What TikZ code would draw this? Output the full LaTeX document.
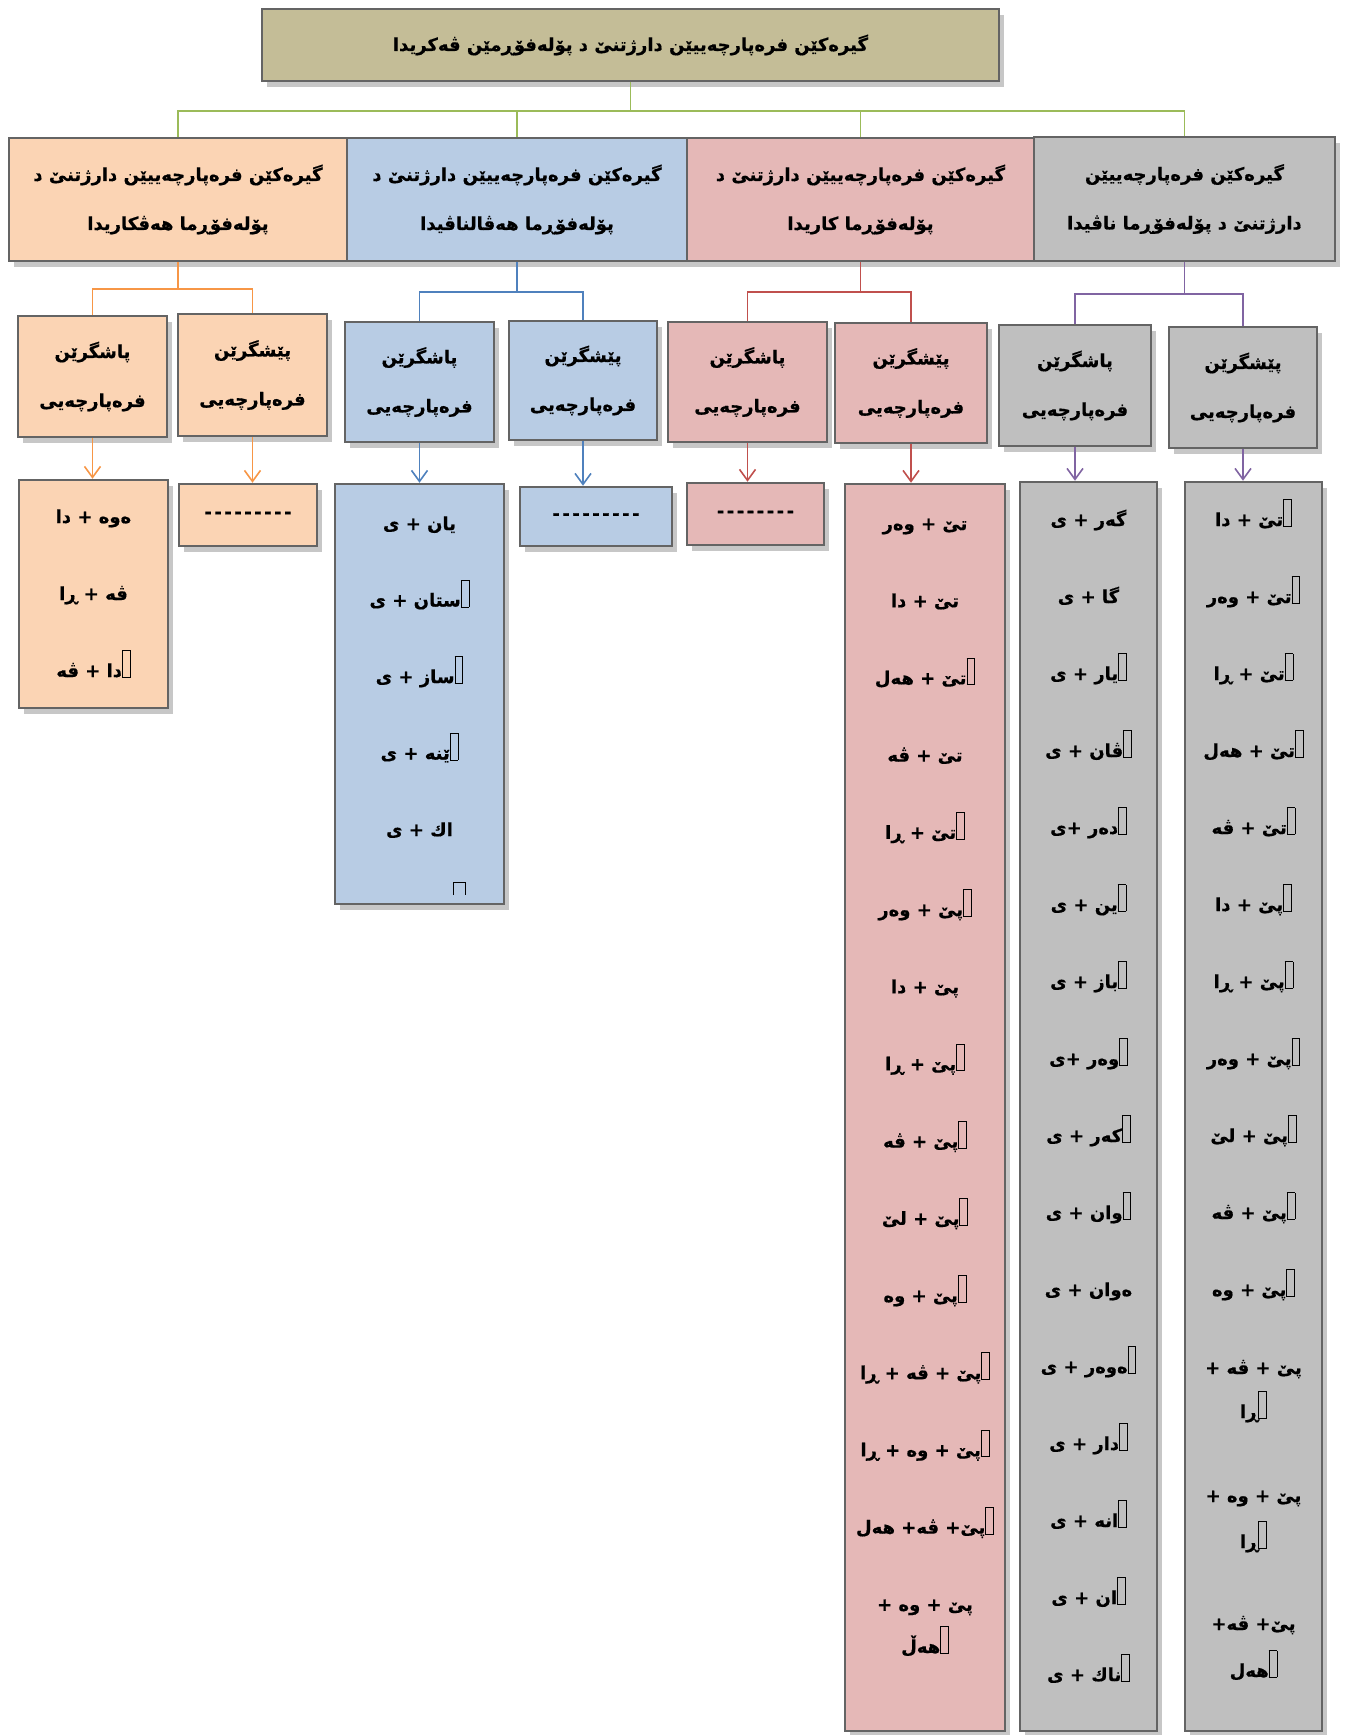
\documentclass[tikz,border=0pt]{standalone}
\usepackage{fontspec}
\usetikzlibrary{shadows,arrows.meta}
\TeXXeTstate=1
\newfontfamily\kurd[Script=Arabic,BoldFeatures={FakeBold=0.6}]{DejaVu Sans}
\newcommand\ku[1]{{\kurd\bfseries\beginR #1\endR}}
\newcommand\tofu{{\fboxsep=0pt\fboxrule=0.8pt\fbox{\rule{0pt}{26pt}\hspace{7pt}}}}
\newcommand\dd{-\kern2.5pt}
\definecolor{tanfill}{RGB}{196,189,151}
\definecolor{orgfill}{RGB}{251,212,180}
\definecolor{blufill}{RGB}{184,204,228}
\definecolor{pnkfill}{RGB}{229,184,183}
\definecolor{gryfill}{RGB}{191,191,191}
\definecolor{edge}{RGB}{100,100,100}
\definecolor{greenln}{RGB}{155,187,89}
\definecolor{orgln}{RGB}{247,150,70}
\definecolor{bluln}{RGB}{79,129,189}
\definecolor{redln}{RGB}{192,80,77}
\definecolor{purln}{RGB}{128,100,162}

\begin{document}
\begin{tikzpicture}[x=1pt,y=-1pt]
	\tikzstyle{every node}+=[inner sep=0pt]
	\tikzstyle{box}=[draw=edge,line width=2.5pt,rectangle,align=center,font=\fontsize{18}{49}\selectfont,drop shadow={shadow xshift=5pt,shadow yshift=-6pt,fill=black!22,opacity=1}]
	\tikzstyle{item}=[anchor=base,font=\fontsize{18}{44}\selectfont]
	\tikzstyle{link}=[line width=1.8pt]
	\tikzstyle{down}=[line width=1.6pt,-{Straight Barb[length=11pt,width=16pt]}]
	\useasboundingbox (0,0) rectangle (1345,1735);
	\node[box,fill=tanfill,minimum width=737pt,minimum height=72pt] (top) at (630.5,45) {\ku{گیرەکێن فرەپارچەییێن دارژتنێ د پۆلەفۆڕمێن ڤەکریدا}};
	\node[box,fill=orgfill,minimum width=338pt,minimum height=123pt] (orgH) at (178,199.5) {\ku{گیرەکێن فرەپارچەییێن دارژتنێ د}\\\ku{پۆلەفۆڕما هەڤکاریدا}};
	\node[box,fill=blufill,minimum width=340pt,minimum height=123pt] (bluH) at (517,199.5) {\ku{گیرەکێن فرەپارچەییێن دارژتنێ د}\\\ku{پۆلەفۆڕما هەڤالناڤیدا}};
	\node[box,fill=pnkfill,minimum width=347pt,minimum height=123pt] (pnkH) at (860.5,199.5) {\ku{گیرەکێن فرەپارچەییێن دارژتنێ د}\\\ku{پۆلەفۆڕما کاریدا}};
	\node[box,fill=gryfill,minimum width=301pt,minimum height=124pt] (gryH) at (1184.5,199) {\ku{گیرەکێن فرەپارچەییێن}\\\ku{دارژتنێ د پۆلەفۆڕما ناڤیدا}};
	\draw[link,greenln] (top.south) -- ++(0,29) -| (orgH.north);
	\draw[link,greenln] (top.south) -- ++(0,29) -| (bluH.north);
	\draw[link,greenln] (top.south) -- ++(0,29) -| (pnkH.north);
	\draw[link,greenln] (top.south) -- ++(0,29) -| (gryH.north);
	\node[box,fill=orgfill,minimum width=149pt,minimum height=121pt] (orgP) at (92.5,376.5) {\ku{پاشگرێن}\\\ku{فرەپارچەیی}};
	\node[box,fill=orgfill,minimum width=149pt,minimum height=122pt] (orgS) at (252.5,375) {\ku{پێشگرێن}\\\ku{فرەپارچەیی}};
	\node[box,fill=blufill,minimum width=149pt,minimum height=120pt] (bluP) at (419.5,382) {\ku{پاشگرێن}\\\ku{فرەپارچەیی}};
	\node[box,fill=blufill,minimum width=148pt,minimum height=119pt] (bluS) at (583,380.5) {\ku{پێشگرێن}\\\ku{فرەپارچەیی}};
	\node[box,fill=pnkfill,minimum width=159pt,minimum height=120pt] (pnkP) at (747.5,382) {\ku{پاشگرێن}\\\ku{فرەپارچەیی}};
	\node[box,fill=pnkfill,minimum width=152pt,minimum height=120pt] (pnkS) at (911,383) {\ku{پێشگرێن}\\\ku{فرەپارچەیی}};
	\node[box,fill=gryfill,minimum width=152pt,minimum height=121pt] (gryP) at (1075,385.5) {\ku{پاشگرێن}\\\ku{فرەپارچەیی}};
	\node[box,fill=gryfill,minimum width=148pt,minimum height=121pt] (gryS) at (1243,387.5) {\ku{پێشگرێن}\\\ku{فرەپارچەیی}};
	\draw[link,orgln] (orgH.south) -- ++(0,27) -| (orgP.north);
	\draw[link,orgln] (orgH.south) -- ++(0,27) -| (orgS.north);
	\draw[link,bluln] (bluH.south) -- ++(0,30) -| (bluP.north);
	\draw[link,bluln] (bluH.south) -- ++(0,30) -| (bluS.north);
	\draw[link,redln] (pnkH.south) -- ++(0,30) -| (pnkP.north);
	\draw[link,redln] (pnkH.south) -- ++(0,30) -| (pnkS.north);
	\draw[link,purln] (gryH.south) -- ++(0,32) -| (gryP.north);
	\draw[link,purln] (gryH.south) -- ++(0,32) -| (gryS.north);
	\node[box,fill=orgfill,minimum width=149pt,minimum height=228pt] (orgPL) at (93.5,594) {};
	\node[box,fill=orgfill,minimum width=138pt,minimum height=62pt] (orgSL) at (248,515) {\ku{\dd\dd\dd\dd\dd\dd\dd\dd-}};
	\node[box,fill=blufill,minimum width=169pt,minimum height=420pt] (bluPL) at (419.5,694) {};
	\node[box,fill=blufill,minimum width=152pt,minimum height=59pt] (bluSL) at (596,516.5) {\ku{\dd\dd\dd\dd\dd\dd\dd\dd-}};
	\node[box,fill=pnkfill,minimum width=137pt,minimum height=62pt] (pnkPL) at (755.5,514) {\ku{\dd\dd\dd\dd\dd\dd\dd-}};
	\node[box,fill=pnkfill,minimum width=160pt,minimum height=1247pt] (pnkSL) at (925,1107.5) {};
	\node[box,fill=gryfill,minimum width=137pt,minimum height=1249pt] (gryPL) at (1088.5,1106.5) {};
	\node[box,fill=gryfill,minimum width=137pt,minimum height=1249pt] (grySL) at (1253.5,1106.5) {};
	\draw[down,orgln] (orgP.south) -- (orgP.south |- orgPL.north);
	\draw[down,orgln] (orgS.south) -- (orgS.south |- orgSL.north);
	\draw[down,bluln] (bluP.south) -- (bluP.south |- bluPL.north);
	\draw[down,bluln] (bluS.south) -- (bluS.south |- bluSL.north);
	\draw[down,redln] (pnkP.south) -- (pnkP.south |- pnkPL.north);
	\draw[down,redln] (pnkS.south) -- (pnkS.south |- pnkSL.north);
	\draw[down,purln] (gryP.south) -- (gryP.south |- gryPL.north);
	\draw[down,purln] (gryS.south) -- (gryS.south |- grySL.north);
	\foreach \t [count=\i] in {ەوە + دا,ڤە + ڕا,\tofu دا + ڤە}
		\node[item] (orgI\i) at (93.5,{523+77*(\i-1)}) {\ku{\t}};
	\foreach \t [count=\i] in {یان + ی,\tofu ستان + ی,\tofu ساز + ی,\tofu ێنە + ی,اك + ی}
		\node[item] (bluI\i) at (419.5,{530+76.5*(\i-1)}) {\ku{\t}};
	\draw[line width=0.8pt] (453,895) |- (465,882) -- (465,895);
	\foreach \t [count=\i] in {تێ + وەر,تێ + دا,\tofu تێ + هەل,تێ + ڤە,\tofu تێ + ڕا,\tofu پێ + وەر,پێ + دا,\tofu پێ + ڕا,\tofu پێ + ڤە,\tofu پێ + لێ,\tofu پێ + وە,\tofu پێ + ڤە + ڕا,\tofu پێ + وە + ڕا,\tofu پێ+ ڤە+ هەل,پێ + وە +}
		\node[item] (pnkI\i) at (925,{530+77.2*(\i-1)}) {\ku{\t}};
	\node[item] (pnkI15b) at (925,1653) {\ku{\tofu هەڵ}};
	\foreach \t [count=\i] in {گەر + ی,گا + ی,\tofu یار + ی,\tofu ڤان + ی,\tofu دەر +ی,\tofu ین + ی,\tofu باز + ی,\tofu وەر +ی,\tofu كەر + ی,\tofu وان + ی,ەوان + ی,\tofu ەوەر + ی,\tofu دار + ی,\tofu انە + ی,\tofu ان + ی,\tofu ناك + ی}
		\node[item] (gryPI\i) at (1088.5,{526+77*(\i-1)}) {\ku{\t}};
	\foreach \t [count=\i] in {\tofu تێ + دا,\tofu تێ + وەر,\tofu تێ + ڕا,\tofu تێ + هەل,\tofu تێ + ڤە,\tofu پێ + دا,\tofu پێ + ڕا,\tofu پێ + وەر,\tofu پێ + لێ,\tofu پێ + ڤە,\tofu پێ + وە}
		\node[item] (grySI\i) at (1253.5,{526+77*(\i-1)}) {\ku{\t}};
	\node[item] (grySI12) at (1253.5,1374) {\ku{پێ + ڤە +}};
	\node[item] (grySI12b) at (1253.5,1418) {\ku{\tofu ڕا}};
	\node[item] (grySI13) at (1253.5,1502) {\ku{پێ + وە +}};
	\node[item] (grySI13b) at (1253.5,1548) {\ku{\tofu ڕا}};
	\node[item] (grySI14) at (1253.5,1630) {\ku{پێ+ ڤە+}};
	\node[item] (grySI14b) at (1253.5,1677) {\ku{\tofu هەل}};
\end{tikzpicture}
\end{document}
